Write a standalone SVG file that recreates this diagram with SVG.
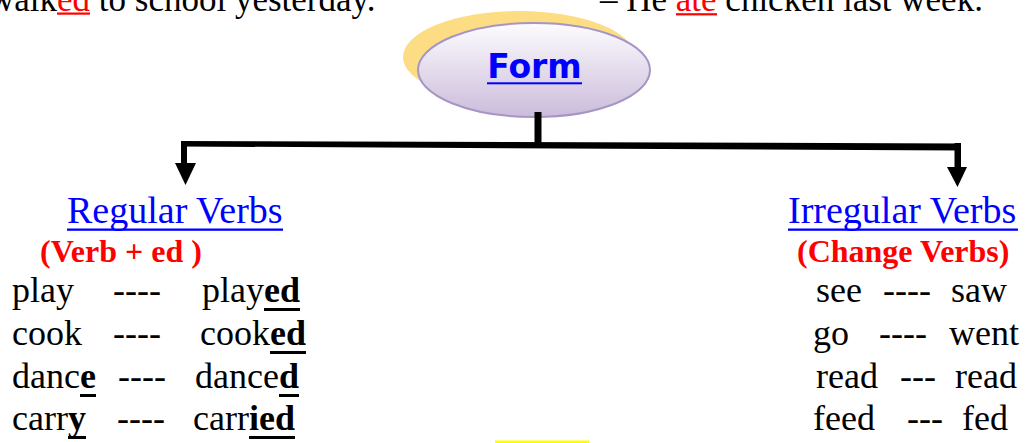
<svg xmlns="http://www.w3.org/2000/svg" width="1025" height="443" viewBox="0 0 1025 443">
  <defs>
    <linearGradient id="ellGrad" x1="0" y1="0" x2="0" y2="1">
      <stop offset="0" stop-color="#fdfcfe"/>
      <stop offset="1" stop-color="#cbbcdb"/>
    </linearGradient>
    <style>
      .serif { font-family: "Liberation Serif", "Times New Roman", serif; }
      .row { font-size: 36px; fill: #000; }
      .b { font-weight: bold; }
      .head { font-size: 38px; fill: #0000ff; }
      .sub { font-size: 32px; font-weight: bold; fill: #ff0000; }
      .top { font-size: 35px; fill: #000; }
      .red { fill: #ff0000; }
      .conn { fill: #000; }
    </style>
  </defs>
  <rect width="1025" height="443" fill="#ffffff"/>

  <g id="top-sentences">
    <text class="serif top" x="-11" y="11">walk<tspan class="red">ed</tspan> to school yesterday.</text>
    <rect x="57" y="12.5" width="33" height="2.2" fill="#ff0000"/>
    <text class="serif top" x="600" y="11">– He <tspan class="red">ate</tspan> chicken last week.</text>
    <rect x="676" y="13.2" width="41" height="2.2" fill="#ff0000"/>
  </g>

  <g id="node-form">
    <ellipse cx="519" cy="57" rx="116" ry="46" fill="#fddd84"/>
    <ellipse cx="534" cy="70" rx="116" ry="47" fill="url(#ellGrad)" stroke="#a596c5" stroke-width="2"/>
    <text x="534.5" y="78" text-anchor="middle" font-family="'DejaVu Sans', Verdana, sans-serif" font-weight="bold" font-size="33" fill="#0000ff">Form</text>
    <rect x="487" y="82.3" width="95" height="2" fill="#0000ff"/>
  </g>

  <g id="connectors">
    <rect class="conn" x="534.5" y="112" width="7" height="33"/>
    <polygon class="conn" points="181,141 961,143.5 961,150.5 181,146.5"/>
    <rect class="conn" x="181" y="141" width="6" height="23"/>
    <polygon class="conn" points="175,163 196,163 185.5,185"/>
    <rect class="conn" x="954.5" y="143" width="6.5" height="25"/>
    <polygon class="conn" points="947,167 967,167 957.5,187"/>
  </g>

  <g id="node-regular">
    <text class="serif head" x="67" y="223">Regular Verbs</text>
    <rect x="67" y="228.5" width="216" height="2.3" fill="#0000ff"/>
    <text class="serif sub" x="40" y="262">(Verb + ed )</text>

    <text class="serif row" y="302"><tspan x="12">play</tspan><tspan x="113">----</tspan><tspan x="202">play</tspan><tspan class="b">ed</tspan></text>
    <rect x="264" y="308" width="36" height="3"/>
    <text class="serif row" y="345"><tspan x="12">cook</tspan><tspan x="113">----</tspan><tspan x="200">cook</tspan><tspan class="b">ed</tspan></text>
    <rect x="270" y="351" width="36" height="3"/>
    <text class="serif row" y="388"><tspan x="12">danc</tspan><tspan class="b">e</tspan><tspan x="118">----</tspan><tspan x="195">dance</tspan><tspan class="b">d</tspan></text>
    <rect x="80" y="394" width="16" height="3"/>
    <rect x="279" y="394" width="20" height="3"/>
    <text class="serif row" y="430"><tspan x="12">carr</tspan><tspan class="b">y</tspan><tspan x="117">----</tspan><tspan x="193">carr</tspan><tspan class="b">ied</tspan></text>
    <rect x="68" y="436" width="18" height="3"/>
    <rect x="249" y="436" width="46" height="3"/>
  </g>

  <g id="node-irregular">
    <text class="serif head" x="788" y="223">Irregular Verbs</text>
    <rect x="788" y="228.5" width="230" height="2.3" fill="#0000ff"/>
    <text class="serif sub" x="797" y="262">(Change Verbs)</text>

    <text class="serif row" y="302"><tspan x="816">see</tspan><tspan x="883">----</tspan><tspan x="951">saw</tspan></text>
    <text class="serif row" y="345"><tspan x="813">go</tspan><tspan x="879">----</tspan><tspan x="949">went</tspan></text>
    <text class="serif row" y="388"><tspan x="816">read</tspan><tspan x="900">---</tspan><tspan x="955">read</tspan></text>
    <text class="serif row" y="430"><tspan x="813">feed</tspan><tspan x="907">---</tspan><tspan x="962">fed</tspan></text>
  </g>

  <rect id="yellow-bar" x="495" y="440.5" width="94" height="2.5" fill="#ffff00"/>
</svg>
